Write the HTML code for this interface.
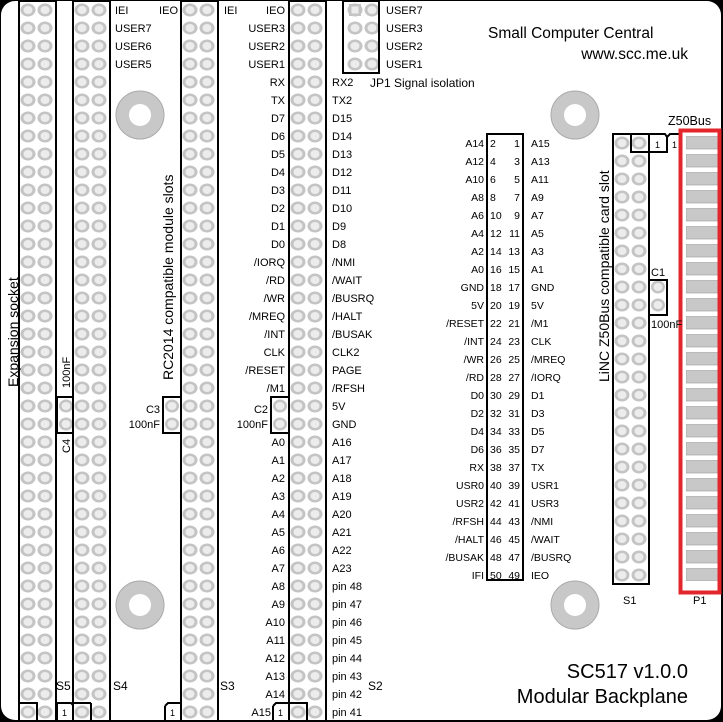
<!DOCTYPE html>
<html><head><meta charset="utf-8"><style>
html,body{margin:0;padding:0;background:#000;}
svg{display:block;font-family:"Liberation Sans",sans-serif;font-size:11px;}
text{fill:#000;}
.r{text-anchor:end;}
</style></head><body>
<svg width="723" height="722" viewBox="0 0 723 722" xmlns="http://www.w3.org/2000/svg">
<defs>
<pattern id="pp" width="37" height="18" patternUnits="userSpaceOnUse">
 <ellipse cx="9" cy="9" rx="7.5" ry="6.5" fill="#c4c4c4"/><ellipse cx="9" cy="9" rx="4.5" ry="4" fill="#ececec"/>
 <ellipse cx="26" cy="9" rx="7.5" ry="6.5" fill="#c4c4c4"/><ellipse cx="26" cy="9" rx="4.5" ry="4" fill="#ececec"/>
</pattern>
<pattern id="p1" width="18" height="18" patternUnits="userSpaceOnUse">
 <ellipse cx="9" cy="9" rx="7" ry="6.5" fill="#c4c4c4"/><ellipse cx="9" cy="9" rx="4.5" ry="4" fill="#ececec"/>
</pattern>
<pattern id="bar" width="40" height="18" patternUnits="userSpaceOnUse">
 <rect x="0" y="0" width="32" height="13" fill="#c8c8c8" stroke="#999" stroke-width="0.6"/>
</pattern>
</defs>
<rect x="1" y="1" width="720" height="719" rx="14" fill="#fff"/>

<g transform="translate(19,1)"><rect width="37" height="720" fill="url(#pp)"/></g>
<g transform="translate(73,1)"><rect width="37" height="720" fill="url(#pp)"/></g>
<g transform="translate(181,1)"><rect width="37" height="720" fill="url(#pp)"/></g>
<g transform="translate(289,1)"><rect width="37" height="720" fill="url(#pp)"/></g>
<g transform="translate(346,1)"><rect width="37" height="72" fill="url(#pp)"/></g>
<g transform="translate(613,134)"><rect width="37" height="450" fill="url(#pp)"/></g>
<g transform="translate(57,397)"><rect width="18" height="36" fill="url(#p1)"/></g>
<g transform="translate(163,397)"><rect width="18" height="36" fill="url(#p1)"/></g>
<g transform="translate(271,397)"><rect width="18" height="36" fill="url(#p1)"/></g>
<g transform="translate(649,278)"><rect width="18" height="36" fill="url(#p1)"/></g>
<rect x="349" y="4" width="12" height="12" fill="#c4c4c4"/><rect x="351.5" y="6.5" width="7" height="7" fill="#ececec"/>

<g fill="none" stroke="#000" stroke-width="2">
<rect x="19" y="1" width="37" height="720"/>
<rect x="73" y="1" width="37" height="720"/>
<rect x="181" y="1" width="37" height="720"/>
<rect x="289" y="1" width="37" height="720"/>
<rect x="343" y="1" width="36" height="72"/>
<rect x="57" y="397" width="16" height="36"/>
<rect x="163" y="397" width="18" height="36"/>
<rect x="271" y="397" width="18" height="36"/>
<rect x="649" y="280" width="18" height="35"/>
<rect x="487" y="134" width="36" height="446"/>
<rect x="613" y="134" width="36" height="450"/>
<path d="M631 134 V152 H649"/>
<path d="M19 703 H37 V721"/>
<path d="M91 703 V721 M73 703 H91"/>
<path d="M57 703 V721 M57 703 H71 L73 705"/>
<path d="M165 706 L168 703 H181 M165 706 V721"/>
<path d="M273 706 L276 703 H289 M273 706 V721 M289 703 H307 V721"/>
<path d="M649 134 H665 L667 137 V152 H649 M667 137 L670 134 H680"/>
</g>
<text x="62" y="716" font-size="9">1</text><text x="170" y="716" font-size="9">1</text><text x="278" y="716" font-size="9">1</text>
<text x="655" y="148" font-size="9">1</text><text x="672" y="148" font-size="9">1</text>

<g transform="translate(686,136)"><rect width="32" height="445" fill="url(#bar)"/></g>
<rect x="680.5" y="130.5" width="39" height="462" fill="none" stroke="#e3262b" stroke-width="4"/>

<g fill="#c8c8c8" stroke="#aaa"><circle cx="140" cy="115" r="24"/><circle cx="575" cy="115" r="24"/><circle cx="140" cy="605" r="24"/><circle cx="575" cy="605" r="24"/></g>
<g fill="#fff"><circle cx="140" cy="115" r="11"/><circle cx="575" cy="115" r="11"/><circle cx="140" cy="605" r="11"/><circle cx="575" cy="605" r="11"/></g>

<text x="115" y="14">IEI</text><text x="115" y="32">USER7</text><text x="115" y="50">USER6</text><text x="115" y="68">USER5</text>
<text x="178" y="14" class="r">IEO</text><text x="224" y="14">IEI</text>
<g>
<text x="285" y="14" class="r">IEO</text><text x="285" y="32" class="r">USER3</text><text x="285" y="50" class="r">USER2</text><text x="285" y="68" class="r">USER1</text>
<text x="285" y="86" class="r">RX</text><text x="285" y="104" class="r">TX</text><text x="285" y="122" class="r">D7</text><text x="285" y="140" class="r">D6</text>
<text x="285" y="158" class="r">D5</text><text x="285" y="176" class="r">D4</text><text x="285" y="194" class="r">D3</text><text x="285" y="212" class="r">D2</text>
<text x="285" y="230" class="r">D1</text><text x="285" y="248" class="r">D0</text><text x="285" y="266" class="r">/IORQ</text><text x="285" y="284" class="r">/RD</text>
<text x="285" y="302" class="r">/WR</text><text x="285" y="320" class="r">/MREQ</text><text x="285" y="338" class="r">/INT</text><text x="285" y="356" class="r">CLK</text>
<text x="285" y="374" class="r">/RESET</text><text x="285" y="392" class="r">/M1</text>
<text x="285" y="446" class="r">A0</text><text x="285" y="464" class="r">A1</text><text x="285" y="482" class="r">A2</text><text x="285" y="500" class="r">A3</text>
<text x="285" y="518" class="r">A4</text><text x="285" y="536" class="r">A5</text><text x="285" y="554" class="r">A6</text><text x="285" y="572" class="r">A7</text>
<text x="285" y="590" class="r">A8</text><text x="285" y="608" class="r">A9</text><text x="285" y="626" class="r">A10</text><text x="285" y="644" class="r">A11</text>
<text x="285" y="662" class="r">A12</text><text x="285" y="680" class="r">A13</text><text x="285" y="698" class="r">A14</text><text x="271" y="716" class="r">A15</text>
</g>
<text x="332" y="86">RX2</text><text x="332" y="104">TX2</text><text x="332" y="122">D15</text><text x="332" y="140">D14</text>
<text x="332" y="158">D13</text><text x="332" y="176">D12</text><text x="332" y="194">D11</text><text x="332" y="212">D10</text>
<text x="332" y="230">D9</text><text x="332" y="248">D8</text><text x="332" y="266">/NMI</text><text x="332" y="284">/WAIT</text>
<text x="332" y="302">/BUSRQ</text><text x="332" y="320">/HALT</text><text x="332" y="338">/BUSAK</text><text x="332" y="356">CLK2</text>
<text x="332" y="374">PAGE</text><text x="332" y="392">/RFSH</text><text x="332" y="410">5V</text><text x="332" y="428">GND</text>
<text x="332" y="446">A16</text><text x="332" y="464">A17</text><text x="332" y="482">A18</text><text x="332" y="500">A19</text>
<text x="332" y="518">A20</text><text x="332" y="536">A21</text><text x="332" y="554">A22</text><text x="332" y="572">A23</text>
<text x="332" y="590">pin 48</text><text x="332" y="608">pin 47</text><text x="332" y="626">pin 46</text><text x="332" y="644">pin 45</text>
<text x="332" y="662">pin 44</text><text x="332" y="680">pin 43</text><text x="332" y="698">pin 42</text><text x="332" y="716">pin 41</text>

<text x="386" y="14">USER7</text><text x="386" y="32">USER3</text><text x="386" y="50">USER2</text><text x="386" y="68">USER1</text>
<text x="370" y="87" font-size="12">JP1  Signal isolation</text>

<text x="160" y="413" class="r">C3</text><text x="160" y="428" class="r">100nF</text>
<text x="268" y="413" class="r">C2</text><text x="268" y="428" class="r">100nF</text>
<text x="651" y="276">C1</text><text x="651" y="328">100nF</text>
<text transform="translate(70,453) rotate(-90)">C4</text>
<text transform="translate(70,388) rotate(-90)">100nF</text>

<text x="56" y="690" font-size="12">S5</text><text x="113" y="690" font-size="12">S4</text><text x="220" y="690" font-size="12">S3</text><text x="368" y="690" font-size="12">S2</text>
<text x="623" y="604">S1</text><text x="693" y="604">P1</text>

<text transform="translate(18,387) rotate(-90)" font-size="14">Expansion socket</text>
<text transform="translate(173,380) rotate(-90)" font-size="14">RC2014 compatible module slots</text>
<text transform="translate(609,382) rotate(-90)" font-size="14">LiNC Z50Bus compatible card slot</text>

<text x="488" y="38" font-size="15.5">Small Computer Central</text>
<text x="688" y="59" font-size="15.5" class="r">www.scc.me.uk</text>
<text x="668" y="125" font-size="12.5">Z50Bus</text>
<text x="688" y="678" font-size="20" class="r">SC517 v1.0.0</text>
<text x="688" y="703" font-size="20" class="r">Modular Backplane</text>

<g font-size="10.5">
<text x="484" y="147" class="r">A14</text><text x="484" y="165" class="r">A12</text><text x="484" y="183" class="r">A10</text><text x="484" y="201" class="r">A8</text>
<text x="484" y="219" class="r">A6</text><text x="484" y="237" class="r">A4</text><text x="484" y="255" class="r">A2</text><text x="484" y="273" class="r">A0</text>
<text x="484" y="291" class="r">GND</text><text x="484" y="309" class="r">5V</text><text x="484" y="327" class="r">/RESET</text><text x="484" y="345" class="r">/INT</text>
<text x="484" y="363" class="r">/WR</text><text x="484" y="381" class="r">/RD</text><text x="484" y="399" class="r">D0</text><text x="484" y="417" class="r">D2</text>
<text x="484" y="435" class="r">D4</text><text x="484" y="453" class="r">D6</text><text x="484" y="471" class="r">RX</text><text x="484" y="489" class="r">USR0</text>
<text x="484" y="507" class="r">USR2</text><text x="484" y="525" class="r">/RFSH</text><text x="484" y="543" class="r">/HALT</text><text x="484" y="561" class="r">/BUSAK</text>
<text x="484" y="579" class="r">IFI</text>
<text x="531" y="147">A15</text><text x="531" y="165">A13</text><text x="531" y="183">A11</text><text x="531" y="201">A9</text>
<text x="531" y="219">A7</text><text x="531" y="237">A5</text><text x="531" y="255">A3</text><text x="531" y="273">A1</text>
<text x="531" y="291">GND</text><text x="531" y="309">5V</text><text x="531" y="327">/M1</text><text x="531" y="345">CLK</text>
<text x="531" y="363">/MREQ</text><text x="531" y="381">/IORQ</text><text x="531" y="399">D1</text><text x="531" y="417">D3</text>
<text x="531" y="435">D5</text><text x="531" y="453">D7</text><text x="531" y="471">TX</text><text x="531" y="489">USR1</text>
<text x="531" y="507">USR3</text><text x="531" y="525">/NMI</text><text x="531" y="543">/WAIT</text><text x="531" y="561">/BUSRQ</text>
<text x="531" y="579">IEO</text>
<text x="490" y="147">2</text><text x="490" y="165">4</text><text x="490" y="183">6</text><text x="490" y="201">8</text>
<text x="490" y="219">10</text><text x="490" y="237">12</text><text x="490" y="255">14</text><text x="490" y="273">16</text>
<text x="490" y="291">18</text><text x="490" y="309">20</text><text x="490" y="327">22</text><text x="490" y="345">24</text>
<text x="490" y="363">26</text><text x="490" y="381">28</text><text x="490" y="399">30</text><text x="490" y="417">32</text>
<text x="490" y="435">34</text><text x="490" y="453">36</text><text x="490" y="471">38</text><text x="490" y="489">40</text>
<text x="490" y="507">42</text><text x="490" y="525">44</text><text x="490" y="543">46</text><text x="490" y="561">48</text><text x="490" y="579">50</text>
<text x="520" y="147" class="r">1</text><text x="520" y="165" class="r">3</text><text x="520" y="183" class="r">5</text><text x="520" y="201" class="r">7</text>
<text x="520" y="219" class="r">9</text><text x="520" y="237" class="r">11</text><text x="520" y="255" class="r">13</text><text x="520" y="273" class="r">15</text>
<text x="520" y="291" class="r">17</text><text x="520" y="309" class="r">19</text><text x="520" y="327" class="r">21</text><text x="520" y="345" class="r">23</text>
<text x="520" y="363" class="r">25</text><text x="520" y="381" class="r">27</text><text x="520" y="399" class="r">29</text><text x="520" y="417" class="r">31</text>
<text x="520" y="435" class="r">33</text><text x="520" y="453" class="r">35</text><text x="520" y="471" class="r">37</text><text x="520" y="489" class="r">39</text>
<text x="520" y="507" class="r">41</text><text x="520" y="525" class="r">43</text><text x="520" y="543" class="r">45</text><text x="520" y="561" class="r">47</text><text x="520" y="579" class="r">49</text>
</g>
</svg>
</body></html>
